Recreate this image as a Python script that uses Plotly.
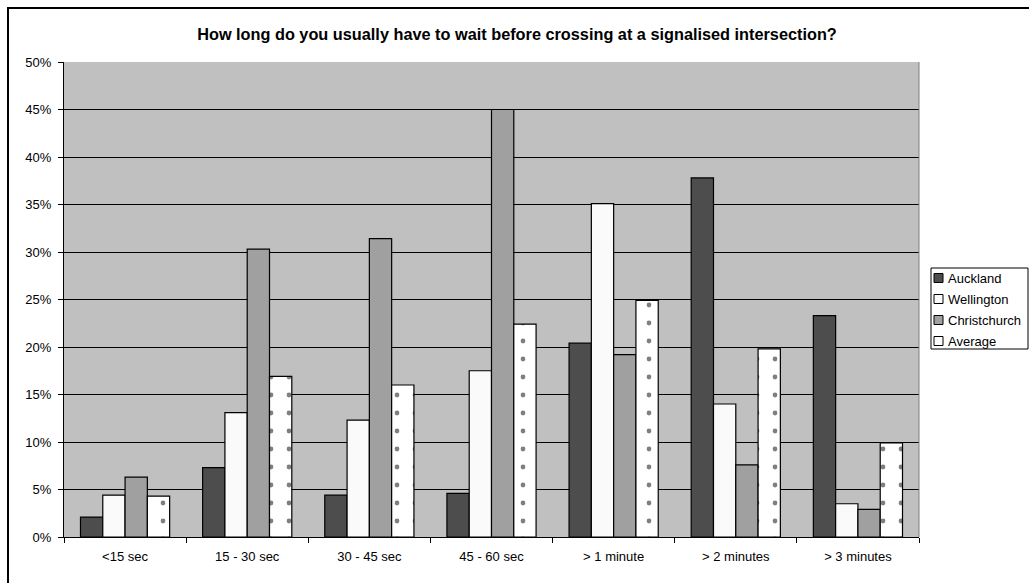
import plotly.graph_objects as go

# ---- data -------------------------------------------------------------
categories = ["<15 sec", "15 - 30 sec", "30 - 45 sec", "45 - 60 sec",
              "> 1 minute", "> 2 minutes", "> 3 minutes"]
auckland = [2.1, 7.3, 4.4, 4.6, 20.4, 37.8, 23.3]
wellington = [4.4, 13.1, 12.3, 17.5, 35.1, 14.0, 3.5]
christchurch = [6.3, 30.3, 31.4, 45.0, 19.2, 7.6, 2.9]
average = [4.3, 16.9, 16.0, 22.4, 24.9, 19.8, 9.9]
y_ticks = [0, 5, 10, 15, 20, 25, 30, 35, 40, 45, 50]
y_tick_labels = [f"{v}%" for v in y_ticks]

series_names = ["Auckland", "Wellington", "Christchurch", "Average"]
series_values = [auckland, wellington, christchurch, average]
series_colors = ["#4D4D4D", "#FAFAFA", "#A0A0A0", "#FFFFFF"]

# ---- geometry (pixels) ------------------------------------------------
W, H = 1029, 583
PL, PR, PT, PB = 64, 919, 62, 537          # plot area edges
FONT = "Liberation Sans, Arial, sans-serif"


def px_x(px):
    return (px - PL) / (PR - PL)


def px_y(py):
    return (PB - py) / (PB - PT)


fig = go.Figure()
for name, vals, col in zip(series_names, series_values, series_colors):
    marker = dict(color=col, line=dict(color="#000000", width=1.2))
    if name == "Average":
        marker["pattern"] = dict(shape=".", fgcolor="#000000", bgcolor="#FFFFFF",
                                 size=18, solidity=0.055)
    fig.add_trace(go.Bar(name=name, x=categories, y=vals, marker=marker,
                         showlegend=False))

shapes = []
annotations = []

# outer chart frame
shapes.append(dict(type="rect", xref="paper", yref="paper",
                   x0=px_x(8), x1=px_x(W + 20), y0=px_y(8), y1=px_y(H + 20),
                   line=dict(color="#000000", width=2), fillcolor="rgba(0,0,0,0)",
                   layer="above"))
# right edge of the plot area
shapes.append(dict(type="line", xref="paper", yref="paper", x0=1, x1=1, y0=0, y1=1,
                   line=dict(color="#808080", width=1), layer="above"))

# legend box
LX0, LX1, LY0, LY1 = 931, 1028, 268, 349
shapes.append(dict(type="rect", xref="paper", yref="paper",
                   x0=px_x(LX0), x1=px_x(LX1), y0=px_y(LY0), y1=px_y(LY1),
                   line=dict(color="#000000", width=1), fillcolor="#FFFFFF",
                   layer="above"))
row_centers = [278, 299, 320, 341]
for name, col, cy in zip(series_names, series_colors, row_centers):
    shapes.append(dict(type="rect", xref="paper", yref="paper",
                       x0=px_x(934), x1=px_x(943), y0=px_y(cy - 4.5), y1=px_y(cy + 4.5),
                       line=dict(color="#000000", width=1), fillcolor=col,
                       layer="above"))
    annotations.append(dict(xref="paper", yref="paper", x=px_x(946), y=px_y(cy),
                            xanchor="left", yanchor="middle", showarrow=False,
                            text=name, font=dict(family=FONT, size=13, color="#000000")))

fig.update_layout(
    width=W, height=H, autosize=False,
    margin=dict(l=PL, r=W - PR, t=PT, b=H - PB, pad=0),
    paper_bgcolor="#FFFFFF",
    plot_bgcolor="#C0C0C0",
    barmode="group",
    bargap=0.27,
    bargroupgap=0,
    font=dict(family=FONT, size=13, color="#000000"),
    title=dict(text="<b>How long do you usually have to wait before crossing at a signalised intersection?</b>",
               x=517 / W, xanchor="center", y=1 - 34 / H, yanchor="middle",
               font=dict(family=FONT, size=16.3, color="#000000")),
    xaxis=dict(type="category", tickson="boundaries", ticks="outside", ticklen=5,
               tickcolor="#000000", showline=True, linecolor="#000000", linewidth=1,
               showgrid=False, ticklabelstandoff=7,
               tickfont=dict(family=FONT, size=13, color="#000000")),
    yaxis=dict(range=[0, 50], tickmode="array", tickvals=y_ticks, ticktext=y_tick_labels,
               ticks="outside", ticklen=5, tickcolor="#000000", showline=True,
               linecolor="#000000", linewidth=1, showgrid=True, gridcolor="#000000",
               gridwidth=1, zeroline=False, ticklabelstandoff=4,
               tickfont=dict(family=FONT, size=13, color="#000000")),
    shapes=shapes,
    annotations=annotations,
)

fig.write_html("out.html")
